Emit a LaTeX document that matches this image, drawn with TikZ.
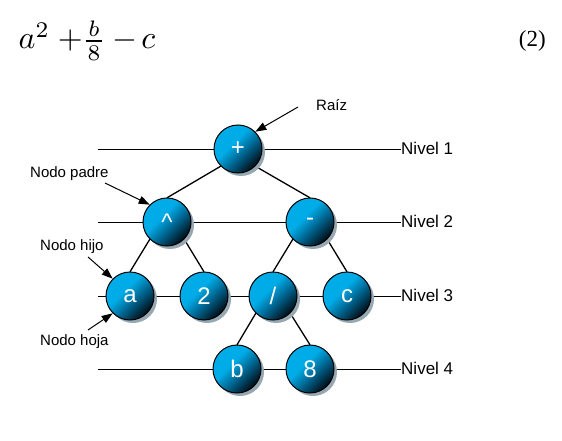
\documentclass[tikz,border=0pt]{standalone}
\usepackage{fontspec}
\setmainfont{Liberation Sans}
\newfontfamily\serifnum{Liberation Serif}
\usetikzlibrary{arrows.meta,shadows}
\definecolor{cdark}{RGB}{0,22,34}
\definecolor{cmid}{RGB}{0,105,150}
\definecolor{cbright}{RGB}{0,172,232}
\definecolor{shadowgray}{RGB}{150,168,178}
\pgfdeclareverticalshading{nodeball}{100bp}{color(0bp)=(cdark); color(27bp)=(cdark); color(44bp)=(cmid); color(58bp)=(cbright); color(100bp)=(cbright)}
\begin{document}
\begin{tikzpicture}[x=1pt,y=-1pt,
  treenode/.style={circle, draw=black, line width=1pt, minimum size=48pt, inner sep=0pt,
    shade, shading=nodeball, shading angle=45,
    drop shadow={shadow xshift=3pt, shadow yshift=-3pt, fill=shadowgray, opacity=1},
    text=white, font=\fontsize{24}{24}\selectfont},
  levelline/.style={line width=1pt},
  edgeline/.style={line width=1.3pt},
  annot/.style={font=\fontsize{15}{17}\selectfont, inner sep=0pt, anchor=base west},
  levellabel/.style={font=\fontsize{17}{19}\selectfont, anchor=west, inner sep=0pt},
  pointer/.style={line width=1pt, -{Triangle[length=11pt,width=8pt]}}
]
\useasboundingbox (0,0) rectangle (562,441);

% formula and equation number
\node[anchor=base west, inner sep=0pt, scale=3.2, transform shape] (formula) at (18,49) {\fontsize{10}{12}\selectfont $a^2\kern2.5pt{+}\kern-0.3pt\frac{\kern0.6pt b\kern0.6pt}{\kern0.6pt 8\kern0.6pt}\kern2pt{-}\kern1.25pt c$};
\node[anchor=base east, inner sep=0pt] (eqnum) at (546,47) {\serifnum\fontsize{23}{26}\selectfont (2)};

% level labels
\node[levellabel] (niv1) at (401,148) {Nivel 1};
\node[levellabel] (niv2) at (401,221) {Nivel 2};
\node[levellabel] (niv3) at (401,295) {Nivel 3};
\node[levellabel] (niv4) at (401,368) {Nivel 4};

\coordinate (l1) at (98,149);
\coordinate (l2) at (98,222);
\coordinate (l3) at (98,296);
\coordinate (l4) at (98,369);

\draw[levelline] (l1) -- (l1 -| niv1.west);
\draw[levelline] (l2) -- (l2 -| niv2.west);
\draw[levelline] (l3) -- (l3 -| niv3.west);
\draw[levelline] (l4) -- (l4 -| niv4.west);

% coordinates of node centres
\coordinate (pplus) at (238,149);
\coordinate (pcaret) at (167,222);
\coordinate (pminus) at (310,222);
\coordinate (pa) at (130,296);
\coordinate (ptwo) at (204,296);
\coordinate (pslash) at (273,296);
\coordinate (pc) at (347,296);
\coordinate (pb) at (237,369);
\coordinate (peight) at (310,369);

% invisible placeholders for anchors (edges drawn behind nodes)
\begin{scope}
\node[circle, minimum size=48pt, inner sep=0pt] (plus) at (pplus) {};
\node[circle, minimum size=48pt, inner sep=0pt] (caret) at (pcaret) {};
\node[circle, minimum size=48pt, inner sep=0pt] (minus) at (pminus) {};
\node[circle, minimum size=48pt, inner sep=0pt] (a) at (pa) {};
\node[circle, minimum size=48pt, inner sep=0pt] (two) at (ptwo) {};
\node[circle, minimum size=48pt, inner sep=0pt] (slash) at (pslash) {};
\node[circle, minimum size=48pt, inner sep=0pt] (c) at (pc) {};
\node[circle, minimum size=48pt, inner sep=0pt] (b) at (pb) {};
\node[circle, minimum size=48pt, inner sep=0pt] (eight) at (peight) {};
\end{scope}

\draw[edgeline] (plus.south west) -- (caret.north);
\draw[edgeline] (plus.south east) -- (minus.north);
\draw[edgeline] (caret.south west) -- (a.north);
\draw[edgeline] (caret.south east) -- (two.north);
\draw[edgeline] (minus.south west) -- (slash.north);
\draw[edgeline] (minus.south east) -- (c.north);
\draw[edgeline] (slash.south west) -- (b.north);
\draw[edgeline] (slash.south east) -- (eight.north);

% visible tree nodes
\node[treenode] (nplus) at (pplus) {+};
\node[treenode] (ncaret) at (pcaret) {\textasciicircum};
\node[treenode] (nminus) at (pminus) {-};
\node[treenode] (na) at (pa) {a};
\node[treenode] (ntwo) at (ptwo) {2};
\node[treenode] (nslash) at (pslash) {/};
\node[treenode] (nc) at (pc) {c};
\node[treenode] (nb) at (pb) {b};
\node[treenode] (neight) at (peight) {8};

% annotations
\node[annot] (raiz) at (316,111) {Raíz};
\node[annot] (padre) at (30,177) {Nodo padre};
\node[annot] (hijo) at (40,250) {Nodo hijo};
\node[annot] (hoja) at (40,345) {Nodo hoja};

\coordinate (sraiz) at (298,107);
\coordinate (spadre) at (105,183);
\coordinate (shijo) at (88,257);
\coordinate (shoja) at (88,330);

\draw[pointer] (sraiz) -- (nplus.north east);
\draw[pointer] (spadre) -- (ncaret.north west);
\draw[pointer] (shijo) -- (na.north west);
\draw[pointer] (shoja) -- (na.south west);
\end{tikzpicture}
\end{document}
